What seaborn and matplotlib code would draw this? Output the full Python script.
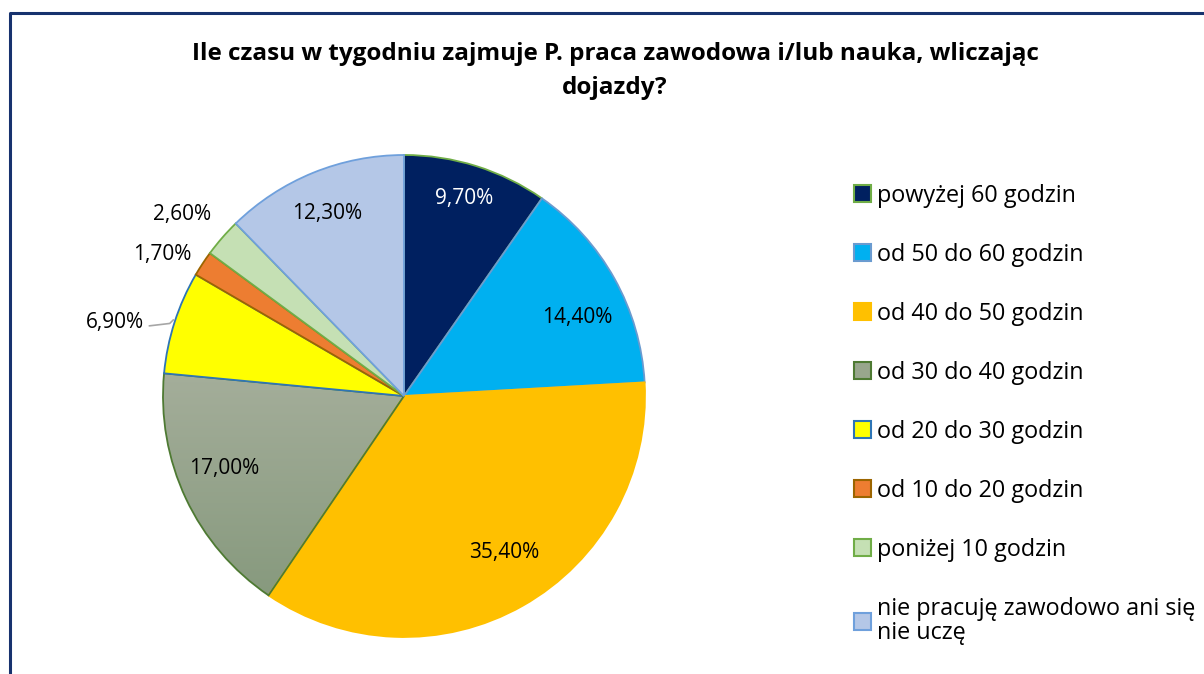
import numpy as np
import matplotlib
matplotlib.use("Agg")
import matplotlib.pyplot as plt
import seaborn as sns
from matplotlib.patches import Patch
from matplotlib.lines import Line2D
from matplotlib.colors import LinearSegmentedColormap

# dane z wykresu
kategorie = [
    "powyżej 60 godzin",
    "od 50 do 60 godzin",
    "od 40 do 50 godzin",
    "od 30 do 40 godzin",
    "od 20 do 30 godzin",
    "od 10 do 20 godzin",
    "poniżej 10 godzin",
    "nie pracuję zawodowo ani się\nnie uczę",
]
procenty = [9.7, 14.4, 35.4, 17.0, 6.9, 1.7, 2.6, 12.3]
tytul = "Ile czasu w tygodniu zajmuje P. praca zawodowa i/lub nauka, wliczając\ndojazdy?"

kolory = ["#002060", "#00B0F0", "#FFC000", "#98A68D", "#FFFF00", "#ED7D31", "#C5E0B4", "#B4C7E7"]
krawedzie = ["#70AD47", "#6A9BD0", "#FFC000", "#4E7A33", "#2E75B6", "#9C6500", "#70AD47", "#6FA0DC"]
kolory_tekstu = ["white"] + ["black"] * 7
# odleglosc etykiet od srodka i przesuniecie katowe (styl)
odleglosc = [0.855, 0.79, 0.77, 0.805, 1.24, 1.16, 1.19, 0.82]
przesuniecie = [0.5, -4.7, 3.0, -3.1, 3.5, 3.0, 1.9, 0.7]

sns.set_theme(style="white")
plt.rcParams["font.family"] = ["Open Sans", "DejaVu Sans"]
plt.rcParams["text.color"] = "black"

fig = plt.figure(figsize=(12.04, 6.74), dpi=100)
R = 241
cx, cy = 404, 396
ax = fig.add_axes([(cx - R) / 1204, (674 - cy - R) / 674, 2 * R / 1204, 2 * R / 674])

wedges, _ = ax.pie(procenty, colors=kolory, startangle=90, counterclock=False,
                   radius=1, wedgeprops=dict(linewidth=1.3))
for w, e in zip(wedges, krawedzie):
    w.set_edgecolor(e)

# gradient w wycinku 30-40 godzin
grad = np.linspace(0, 1, 256).reshape(-1, 1)
cmap = LinearSegmentedColormap.from_list("szary", ["#A6AF9C", "#83977A"])
im = ax.imshow(grad, cmap=cmap, extent=(-1.05, 0.1, -0.95, 0.15), aspect="auto", zorder=0.5)
im.set_clip_path(wedges[3])
wedges[3].set_facecolor("none")

ax.set_xlim(-1, 1)
ax.set_ylim(-1, 1)
ax.set_aspect("equal")
ax.axis("off")

for i, w in enumerate(wedges):
    a = np.deg2rad((w.theta1 + w.theta2) / 2 + przesuniecie[i])
    x, y = odleglosc[i] * np.cos(a), odleglosc[i] * np.sin(a)
    txt = f"{procenty[i]:.2f}".replace(".", ",") + "%"
    ax.text(x, y, txt, ha="center", va="center", fontsize=15,
            color=kolory_tekstu[i], clip_on=False)
    if i == 4:
        a0 = np.deg2rad((w.theta1 + w.theta2) / 2)
        px, py = np.cos(a0), np.sin(a0)
        ax.plot([px - 0.105, px - 0.02, px - 0.005], [py - 0.015, py - 0.005, py + 0.01],
                color="#A6A6A6", lw=1.2, clip_on=False)

uchwyty = [Patch(facecolor=c, edgecolor=e, linewidth=1.5) for c, e in zip(kolory, krawedzie)]
leg = fig.legend(handles=uchwyty, labels=kategorie, loc="upper left",
                 bbox_to_anchor=(833 / 1204, 1 - 163 / 674), frameon=False,
                 fontsize=16.8, handlelength=0.73, handleheight=0.73, handletextpad=0.26,
                 labelspacing=1.5)
for t in leg.get_texts():
    t.set_linespacing(1.0)
    t.set_color("black")

fig.text(615 / 1204, 1 - 71 / 674, tytul, ha="center", va="center",
         fontsize=17.5, fontweight="bold", linespacing=1.58, color="black")

fig.add_artist(Line2D([10 / 1204, 10 / 1204, 1], [0, 1 - 13 / 674, 1 - 13 / 674],
                      transform=fig.transFigure, color="#17326E", lw=2.2))

fig.savefig("out.png", dpi=100)
